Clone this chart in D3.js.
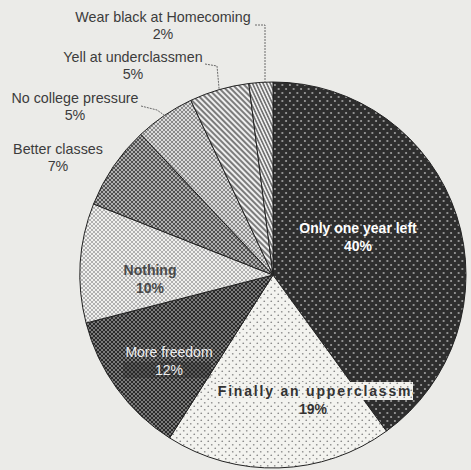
<!DOCTYPE html>
<html>
<head>
<meta charset="utf-8">
<script src="https://cdn.jsdelivr.net/npm/d3@7"></script>
<style>
  html, body { margin: 0; padding: 0; background: #ebebe8; }
  svg { display: block; }
  text { font-family: "Liberation Sans", Arial, Helvetica, sans-serif; }
</style>
</head>
<body>
<svg id="chart" width="471" height="470"></svg>
<script>
// ---- data ----
const categories = [
  "Only one year left",
  "Finally an upperclassman",
  "More freedom",
  "Nothing",
  "Better classes",
  "No college pressure",
  "Yell at underclassmen",
  "Wear black at Homecoming"
];
const values = [40, 19, 12, 10, 7, 5, 5, 2];
const pctLabels = ["40%", "19%", "12%", "10%", "7%", "5%", "5%", "2%"];

// ---- layout ----
const W = 471, H = 470;
const cx = 273, cy = 275, R = 193;
const svg = d3.select("#chart");
svg.append("rect").attr("width", W).attr("height", H).attr("fill", "#ebebe8");

const defs = svg.append("defs");
function dots(id, bg, fg, r, w, h) {
  const p = defs.append("pattern").attr("id", id).attr("patternUnits", "userSpaceOnUse")
    .attr("width", w).attr("height", h);
  p.append("rect").attr("width", w).attr("height", h).attr("fill", bg);
  p.append("circle").attr("cx", w * 0.25).attr("cy", h * 0.25).attr("r", r).attr("fill", fg);
  p.append("circle").attr("cx", w * 0.75).attr("cy", h * 0.75).attr("r", r).attr("fill", fg);
}
function checker(id, bg, fg, s) {
  const p = defs.append("pattern").attr("id", id).attr("patternUnits", "userSpaceOnUse")
    .attr("width", s * 2).attr("height", s * 2);
  p.append("rect").attr("width", s * 2).attr("height", s * 2).attr("fill", bg);
  p.append("rect").attr("width", s).attr("height", s).attr("fill", fg);
  p.append("rect").attr("x", s).attr("y", s).attr("width", s).attr("height", s).attr("fill", fg);
}
function stripes(id, bg, fg, period, sw, angle) {
  const p = defs.append("pattern").attr("id", id).attr("patternUnits", "userSpaceOnUse")
    .attr("width", period).attr("height", period)
    .attr("patternTransform", `rotate(${angle})`);
  p.append("rect").attr("width", period).attr("height", period).attr("fill", bg);
  p.append("line").attr("x1", period / 2).attr("x2", period / 2).attr("y1", 0).attr("y2", period)
    .attr("stroke", fg).attr("stroke-width", sw);
}
dots("p0", "#2e2e2e", "#a8a8a8", 1.0, 7.5, 8);
dots("p1", "#f3f3ef", "#8a8a8a", 0.85, 7, 7);
checker("p2", "#7a7a7a", "#2a2a2a", 2);
checker("p3", "#f0f0ee", "#b0b0b0", 2);
checker("p4", "#b0b0b0", "#505050", 2);
checker("p5", "#dcdcdc", "#8a8a8a", 2);
stripes("p6", "#efefef", "#555555", 4, 1.5, -45);
stripes("p7", "#efefef", "#555555", 3.2, 1.3, -25);

defs.append("clipPath").attr("id", "clipFinally")
  .append("rect").attr("x", 0).attr("y", 0).attr("width", 413).attr("height", H);

const pie = d3.pie().sort(null).startAngle(0).endAngle(2 * Math.PI);
const arcs = pie(values);
const arc = d3.arc().innerRadius(0).outerRadius(R);

const g = svg.append("g").attr("transform", `translate(${cx},${cy})`);
g.selectAll("path.slice").data(arcs).enter().append("path")
  .attr("class", "slice")
  .attr("d", arc)
  .attr("fill", (d, i) => `url(#p${i})`)
  .attr("stroke", "#222")
  .attr("stroke-width", 1);

// label backing boxes (as in the original print)
svg.append("rect").attr("x", 214).attr("y", 382).attr("width", 199).attr("height", 18)
  .attr("fill", "url(#p1)");
svg.append("rect").attr("x", 123).attr("y", 362).attr("width", 88).attr("height", 16)
  .attr("fill", "#262626").attr("opacity", 0.35);

// inside labels: positions of the two lines, text style
const inside = {
  0: { x: 358, y: 233, x2: 358, fill: "#ffffff", bold: true, ls: 0 },
  1: { x: 325, y: 396, x2: 313, fill: "#333333", bold: true, ls: 1.8 },
  2: { x: 169, y: 357, x2: 169, fill: "#eeeeee", bold: false, ls: 0 },
  3: { x: 150, y: 275, x2: 150, fill: "#4a4a4a", bold: true, ls: 0 }
};
Object.keys(inside).forEach(k => {
  const i = +k, L = inside[k];
  const t = svg.append("text").attr("text-anchor", "middle").attr("fill", L.fill)
    .attr("font-size", 14).attr("font-weight", L.bold ? "bold" : "normal");
  if (i === 1) t.attr("clip-path", "url(#clipFinally)");
  t.append("tspan").attr("x", L.x).attr("y", L.y).attr("letter-spacing", L.ls).text(categories[i]);
  t.append("tspan").attr("x", L.x2).attr("y", L.y + 18).text(pctLabels[i]);
});

// outside labels with leader lines
const outside = {
  4: { x: 58, y: 154, leader: null },
  5: { x: 75, y: 103, leader: [[141, 106], [157, 110]] },
  6: { x: 133, y: 62, leader: [[205, 64], [217, 66]] },
  7: { x: 163, y: 22, leader: [[255, 25], [265, 25]] }
};
Object.keys(outside).forEach(k => {
  const i = +k, L = outside[k];
  const t = svg.append("text").attr("text-anchor", "middle").attr("fill", "#3c3c3c")
    .attr("font-size", 14.3);
  t.append("tspan").attr("x", L.x).attr("y", L.y).text(categories[i]);
  t.append("tspan").attr("x", L.x).attr("y", L.y + 16.5).text(pctLabels[i]);
  if (L.leader) {
    const a = arcs[i];
    const mid = (a.startAngle + a.endAngle) / 2;
    const end = [cx + R * Math.sin(mid), cy - R * Math.cos(mid)];
    let pts = L.leader.slice();
    if (i === 7) pts.push([265, end[1]]); else pts.push(end);
    svg.append("path")
      .attr("d", d3.line()(pts))
      .attr("fill", "none").attr("stroke", "#6a6a6a").attr("stroke-width", 1)
      .attr("stroke-dasharray", "2,1");
  }
});
</script>
</body>
</html>
